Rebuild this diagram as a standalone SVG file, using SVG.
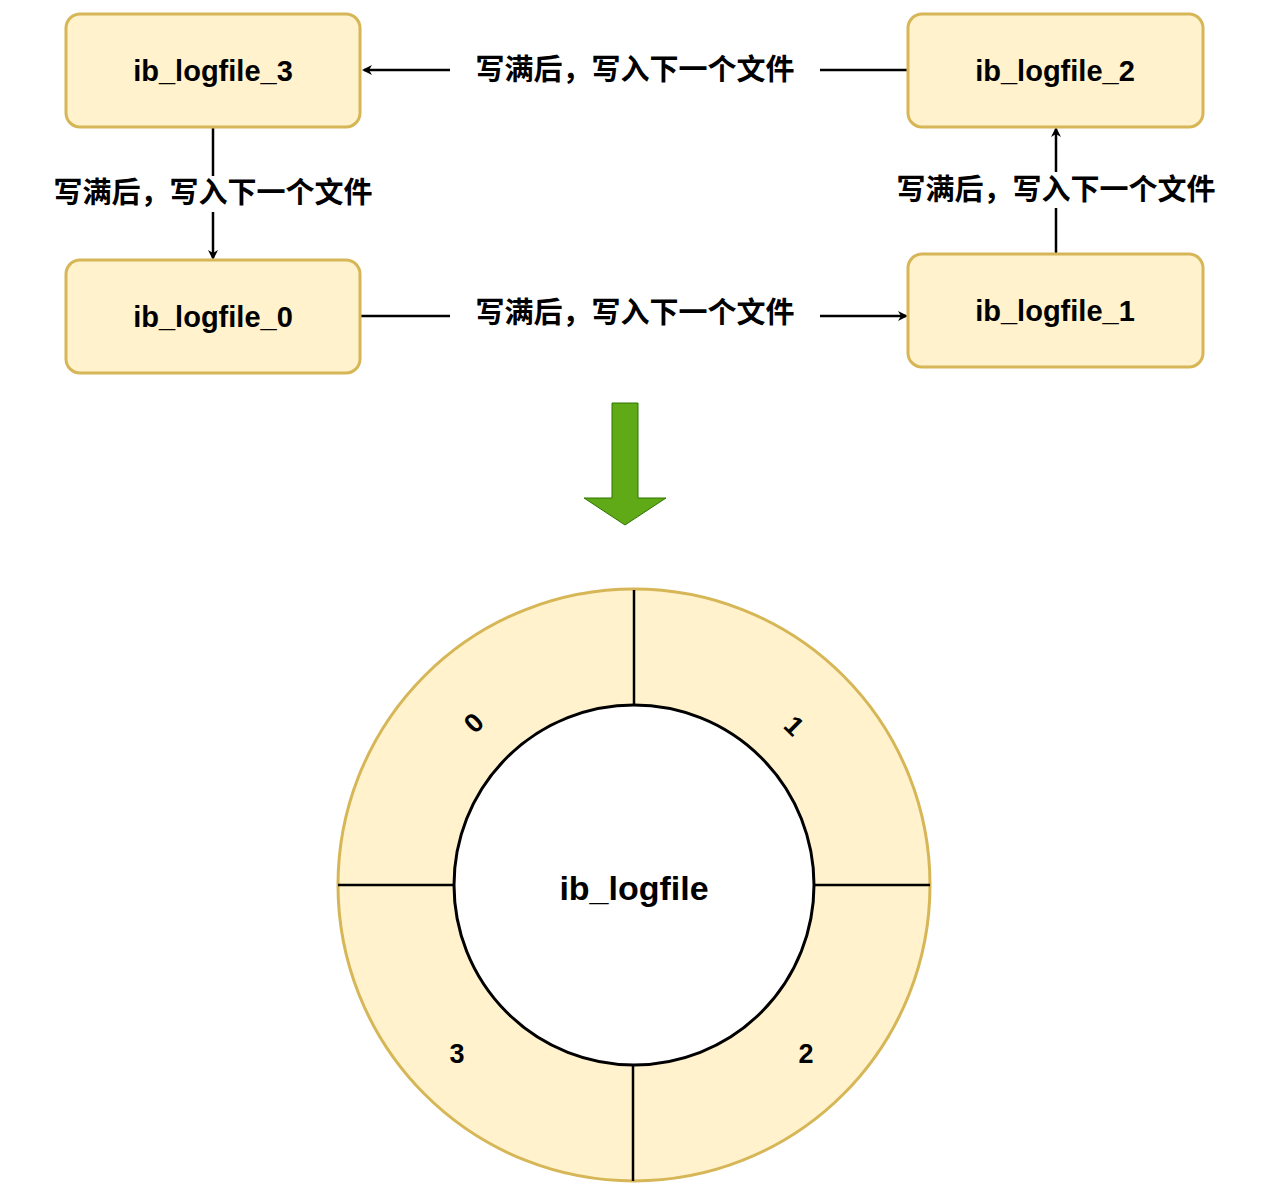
<svg xmlns="http://www.w3.org/2000/svg" width="1266" height="1194" viewBox="0 0 1266 1194">
<style>
.n{fill:#fff2cc;stroke:#d6b656;stroke-width:3}
.t{font-family:"Liberation Sans","Noto Sans CJK SC",sans-serif;font-weight:bold;text-anchor:middle;dominant-baseline:central}
.l{stroke:#000;stroke-width:2.5;fill:none}
.lb{fill:#fff}
</style>
<defs><marker id="a" markerWidth="10" markerHeight="10" refX="8" refY="5" orient="auto" markerUnits="userSpaceOnUse"><path d="M0,0 L10,5 L0,10 L3,5Z" fill="#000"/></marker></defs>
<rect width="1266" height="1194" fill="#fff"/>
<g id="connectors">
<line class="l" x1="908" y1="70" x2="364" y2="70" marker-end="url(#a)"/>
<line class="l" x1="213" y1="127" x2="213" y2="258" marker-end="url(#a)"/>
<line class="l" x1="360" y1="316" x2="906" y2="316" marker-end="url(#a)"/>
<line class="l" x1="1056" y1="254" x2="1056" y2="129" marker-end="url(#a)"/>
<rect class="lb" x="450" y="52" width="370" height="36"/>
<rect class="lb" x="28" y="176" width="372" height="36"/>
<rect class="lb" x="450" y="296" width="370" height="36"/>
<rect class="lb" x="870" y="172" width="372" height="36"/>
<text class="t" x="635" y="70" font-size="29">写满后，写入下一个文件</text>
<text class="t" x="213" y="193" font-size="29">写满后，写入下一个文件</text>
<text class="t" x="635" y="313" font-size="29">写满后，写入下一个文件</text>
<text class="t" x="1056" y="190" font-size="29">写满后，写入下一个文件</text>
</g>
<g id="n3"><rect class="n" x="66" y="14" width="294" height="113" rx="14"/><text class="t" x="213" y="71" font-size="29">ib_logfile_3</text></g>
<g id="n2"><rect class="n" x="908" y="14" width="295" height="113" rx="14"/><text class="t" x="1055" y="71" font-size="29">ib_logfile_2</text></g>
<g id="n0"><rect class="n" x="66" y="260" width="294" height="113" rx="14"/><text class="t" x="213" y="317" font-size="29">ib_logfile_0</text></g>
<g id="n1"><rect class="n" x="908" y="254" width="295" height="113" rx="14"/><text class="t" x="1055" y="311" font-size="29">ib_logfile_1</text></g>
<g id="bigarrow"><path d="M612,403 H638 V498 H666 L625,525 L584,498 H612Z" fill="#60a917" stroke="#2d7600" stroke-width="1"/></g>
<g id="ring">
<circle cx="634" cy="885" r="296" fill="#fff2cc" stroke="#d6b656" stroke-width="3"/>
<circle cx="634" cy="885" r="180" fill="#fff" stroke="#000" stroke-width="3"/>
<line class="l" x1="634" y1="590" x2="634" y2="705"/>
<line class="l" x1="633" y1="1065" x2="633" y2="1181"/>
<line class="l" x1="338" y1="885" x2="454" y2="885"/>
<line class="l" x1="814" y1="885" x2="930" y2="885"/>
<text class="t" x="634" y="888" font-size="34">ib_logfile</text>
<text class="t" x="474" y="723" font-size="27" transform="rotate(-45 474 723)">0</text>
<text class="t" x="794" y="726" font-size="27" transform="rotate(45 794 726)">1</text>
<text class="t" x="806" y="1054" font-size="27">2</text>
<text class="t" x="457" y="1054" font-size="27">3</text>
</g>
</svg>
